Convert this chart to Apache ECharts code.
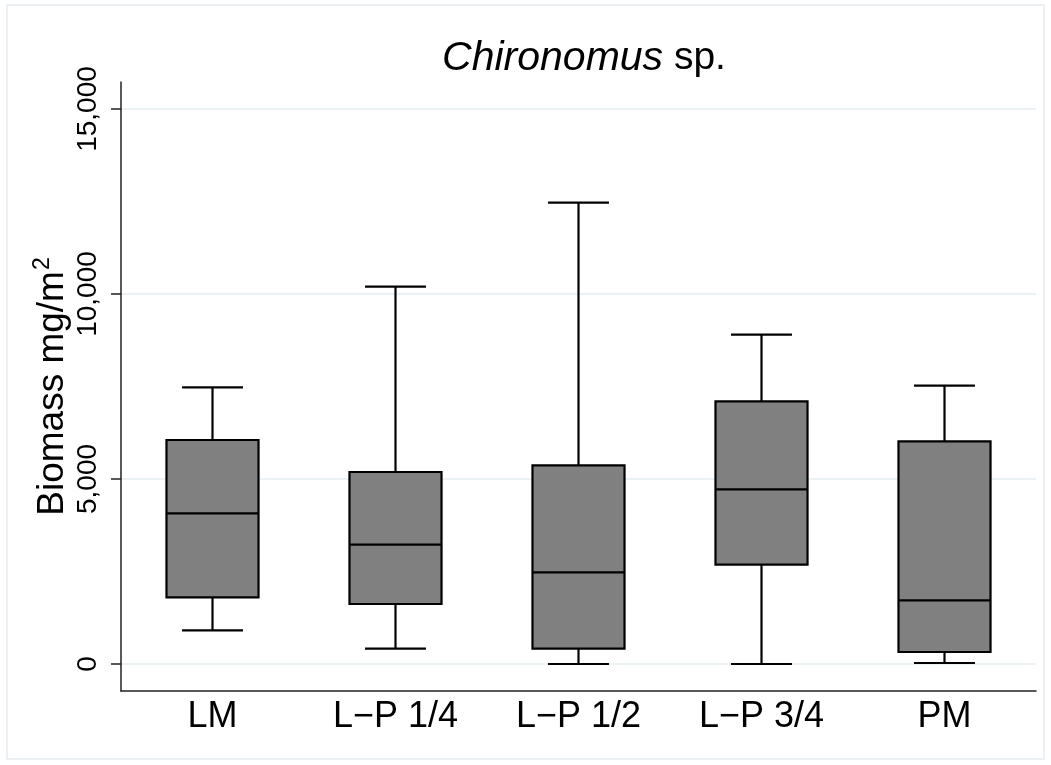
<!DOCTYPE html>
<html>
<head>
<meta charset="utf-8">
<script src="https://cdn.jsdelivr.net/npm/echarts@6/dist/echarts.min.js"></script>
<style>html,body{margin:0;padding:0;background:#fff}#c{width:1051px;height:765px}</style>
</head>
<body>
<div id="c"></div>
<script>
const categories = ['LM', 'L\u2212P 1/4', 'L\u2212P 1/2', 'L\u2212P 3/4', 'PM'];
const lowerWhisker  = [908, 414, 0, 0, 27];
const lowerQuartile = [1800, 1622, 414, 2684, 324];
const medians       = [4070, 3224, 2476, 4719, 1719];
const upperQuartile = [6054, 5189, 5368, 7097, 6016];
const upperWhisker  = [7476, 10197, 12468, 8900, 7522];
const yTicks = [0, 5000, 10000, 15000];

const FONT = "'Liberation Sans', Arial, Helvetica, sans-serif";
const boxData = categories.map((c, i) => [i, lowerWhisker[i], lowerQuartile[i], medians[i], upperQuartile[i], upperWhisker[i]]);

const chart = echarts.init(document.getElementById('c'), null, {renderer: 'canvas'});
chart.setOption({
  animation: false,
  backgroundColor: '#fff',
  textStyle: {fontFamily: FONT},
  title: {
    text: '{i|Chironomus} sp.',
    left: 579, top: 33, textAlign: 'center',
    textStyle: {fontFamily: FONT, fontSize: 39, fontWeight: 'normal', color: '#000',
      rich: {i: {fontFamily: FONT, fontSize: 41, fontStyle: 'italic', color: '#000'}}}
  },
  graphic: [{
    type: 'rect', silent: true, z: -10,
    shape: {x: 7, y: 5, width: 1037, height: 754},
    style: {fill: 'none', stroke: '#e4ecef', lineWidth: 1.5}
  }],
  grid: [
    {left: 121, right: 15, top: 82, bottom: 74},
    {left: 121, right: 15, top: 109, bottom: 101}
  ],
  xAxis: [
    {type: 'category', gridIndex: 0, data: categories,
      axisLine: {show: true, lineStyle: {color: '#222', width: 1.5}},
      axisTick: {show: false},
      axisLabel: {fontFamily: FONT, fontSize: 36, color: '#000', margin: 8},
      splitLine: {show: false}},
    {type: 'category', gridIndex: 1, data: categories, show: false}
  ],
  yAxis: [
    {type: 'value', gridIndex: 0, min: 0, max: 1,
      axisLine: {show: true, lineStyle: {color: '#222', width: 1.5}},
      axisTick: {show: false}, axisLabel: {show: false}, splitLine: {show: false},
      name: 'Biomass mg/m{sup|2}', nameLocation: 'middle', nameRotate: 90, nameGap: 47,
      nameTextStyle: {fontFamily: FONT, fontSize: 37, color: '#000',
        rich: {sup: {fontFamily: FONT, fontSize: 23, color: '#000', verticalAlign: 'top', padding: [0, 0, 20, 1]}}}},
    {type: 'value', gridIndex: 1, min: yTicks[0], max: yTicks[yTicks.length - 1], interval: 5000,
      axisLine: {show: false},
      axisTick: {show: true, length: 10, lineStyle: {color: '#222', width: 1.5}},
      axisLabel: {fontFamily: FONT, fontSize: 28, color: '#000', rotate: 90, margin: 19,
        formatter: v => v.toLocaleString('en-US')},
      splitLine: {show: true, lineStyle: {color: '#e5eef2', width: 1.5}}}
  ],
  series: [{
    type: 'custom', xAxisIndex: 1, yAxisIndex: 1,
    data: boxData,
    encode: {x: 0, y: [1, 2, 3, 4, 5]},
    renderItem: function (params, api) {
      const x = api.value(0);
      const band = api.size([1, 0])[0];
      const bw = band * 0.503, cw = band * 0.333;
      const pLo = api.coord([x, api.value(1)]);
      const pQ1 = api.coord([x, api.value(2)]);
      const pMed = api.coord([x, api.value(3)]);
      const pQ3 = api.coord([x, api.value(4)]);
      const pHi = api.coord([x, api.value(5)]);
      const cx = pMed[0];
      const ls = {stroke: '#000', lineWidth: 2.2};
      return {type: 'group', children: [
        {type: 'line', shape: {x1: cx, y1: pHi[1], x2: cx, y2: pQ3[1]}, style: ls},
        {type: 'line', shape: {x1: cx, y1: pQ1[1], x2: cx, y2: pLo[1]}, style: ls},
        {type: 'line', shape: {x1: cx - cw / 2, y1: pHi[1], x2: cx + cw / 2, y2: pHi[1]}, style: ls},
        {type: 'line', shape: {x1: cx - cw / 2, y1: pLo[1], x2: cx + cw / 2, y2: pLo[1]}, style: ls},
        {type: 'rect', shape: {x: cx - bw / 2, y: pQ3[1], width: bw, height: pQ1[1] - pQ3[1]},
          style: {fill: '#808080', stroke: '#000', lineWidth: 2.2}},
        {type: 'line', shape: {x1: cx - bw / 2, y1: pMed[1], x2: cx + bw / 2, y2: pMed[1]}, style: ls}
      ]};
    }
  }]
});
</script>
</body>
</html>
